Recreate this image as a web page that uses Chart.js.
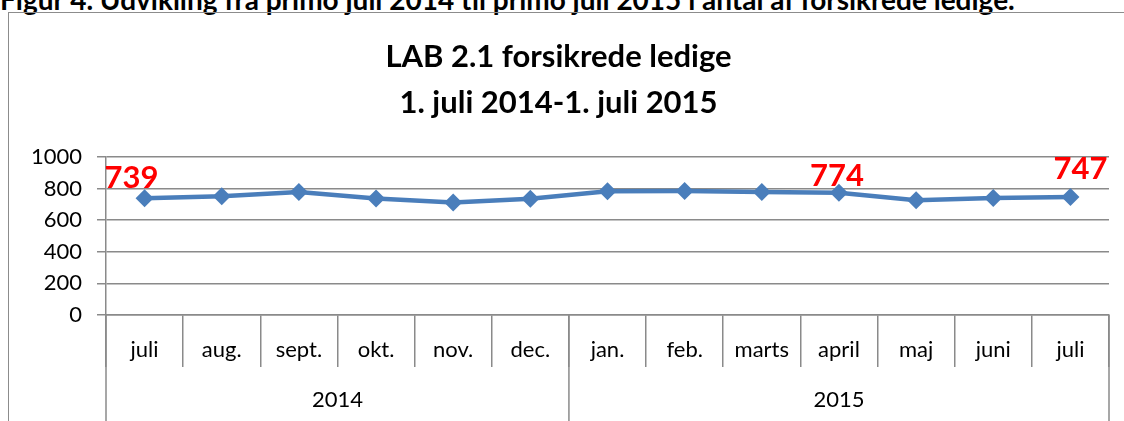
<!DOCTYPE html>
<html>
<head>
<meta charset="utf-8">
<script src="https://cdn.jsdelivr.net/npm/chart.js@4"></script>
<style>
  html, body { margin: 0; padding: 0; background: #fff; }
  #wrap { position: relative; width: 1124px; height: 421px; overflow: hidden; }
  #heading {
    position: absolute; left: 0; top: -14px; white-space: nowrap;
    font: bold 28px Lato, sans-serif; line-height: 27px; color: #000;
  }
  #box {
    position: absolute; left: 8px; top: 12px; width: 1200px; height: 500px;
    border: 1.5px solid #8c8c8c; box-sizing: border-box;
  }
  #myChart { position: absolute; left: 0; top: 0; }
</style>
</head>
<body>
<div id="wrap">
  <div id="heading">Figur 4. Udvikling fra primo juli 2014 til primo juli 2015 i antal af forsikrede ledige.</div>
  <div id="box"></div>
  <canvas id="myChart" width="1124" height="421"></canvas>
</div>
<script>
const months = ['juli', 'aug.', 'sept.', 'okt.', 'nov.', 'dec.', 'jan.', 'feb.', 'marts', 'april', 'maj', 'juni', 'juli'];
const years = ['2014', '2015'];
const yearStart = [0, 6];          // first month index of each year
const ledige = [739, 752, 779, 737, 712, 736, 783, 785, 779, 774, 727, 741, 747];
const labelled = [0, 9, 12];       // points that carry a value label
const yTicks = [0, 200, 400, 600, 800, 1000];

const gridColor = '#8a8a8a';
const lineBlue = '#4a7ebb';

// value labels in red, nudged like the original
const labelOffsets = { 0: [-13, -20], 9: [-2, -17], 12: [10, -28] };
const valueLabels = {
  id: 'valueLabels',
  afterDatasetsDraw(chart) {
    const ctx = chart.ctx;
    const meta = chart.getDatasetMeta(0);
    ctx.save();
    ctx.font = 'bold 31px Lato, sans-serif';
    ctx.fillStyle = '#ff0000';
    ctx.textAlign = 'center';
    ctx.textBaseline = 'middle';
    labelled.forEach(i => {
      const p = meta.data[i];
      const off = labelOffsets[i] || [0, -20];
      ctx.fillText(String(ledige[i]), p.x + off[0], p.y + off[1]);
    });
    ctx.restore();
  }
};

// second row of the category axis: years with long separators
const yearRow = {
  id: 'yearRow',
  afterDraw(chart) {
    const ctx = chart.ctx;
    const x = chart.scales.x;
    const area = chart.chartArea;
    const half = (x.getPixelForTick(1) - x.getPixelForTick(0)) / 2;
    const bottom = chart.height;
    ctx.save();
    ctx.strokeStyle = gridColor;
    ctx.lineWidth = 1.5;
    const edges = [];
    yearStart.forEach(s => edges.push(x.getPixelForTick(s) - half));
    edges.push(x.getPixelForTick(months.length - 1) + half);
    edges.forEach(px => {
      ctx.beginPath();
      ctx.moveTo(px, area.bottom);
      ctx.lineTo(px, bottom);
      ctx.stroke();
    });
    ctx.font = '22px Lato, sans-serif';
    ctx.fillStyle = '#000';
    ctx.textAlign = 'center';
    ctx.textBaseline = 'middle';
    years.forEach((yr, k) => {
      ctx.fillText(yr, (edges[k] + edges[k + 1]) / 2, 400);
    });
    ctx.restore();
  }
};

const ctx = document.getElementById('myChart').getContext('2d');
const myChart = new Chart(ctx, {
  type: 'line',
  data: {
    labels: months,
    datasets: [{
      data: ledige,
      borderColor: lineBlue,
      backgroundColor: lineBlue,
      borderWidth: 4.5,
      tension: 0,
      pointStyle: 'rectRot',
      pointRadius: 9,
      pointBorderWidth: 0,
      pointBackgroundColor: lineBlue
    }]
  },
  options: {
    responsive: false,
    animation: false,
    layout: { padding: { left: 8, right: 15, top: 13, bottom: 0 } },
    plugins: {
      legend: { display: false },
      tooltip: { enabled: false },
      title: {
        display: true,
        text: ['LAB 2.1 forsikrede ledige', '1. juli 2014-1. juli 2015'],
        color: '#000',
        font: { family: 'Lato', size: 31, weight: 'bold', lineHeight: 1.484 },
        padding: { top: 21, bottom: 31 }
      }
    },
    scales: {
      y: {
        min: 0,
        max: 1000,
        afterBuildTicks: s => { s.ticks = yTicks.map(v => ({ value: v })); },
        afterFit: s => { s.width = 98; },
        ticks: {
          color: '#000', font: { family: 'Lato', size: 22 }, padding: 15,
          callback: v => String(v)
        },
        grid: { color: gridColor, lineWidth: 1.5, tickLength: 9 },
        border: { color: gridColor, width: 1.5 }
      },
      x: {
        offset: true,
        afterFit: s => { s.height = 106; },
        ticks: { color: '#000', font: { family: 'Lato', size: 22 }, padding: -30, maxRotation: 0, autoSkip: false },
        grid: { offset: true, drawOnChartArea: false, color: gridColor, lineWidth: 1.5, tickLength: 52 },
        border: { color: gridColor, width: 1.5 }
      }
    }
  },
  plugins: [valueLabels, yearRow]
});
</script>
</body>
</html>
